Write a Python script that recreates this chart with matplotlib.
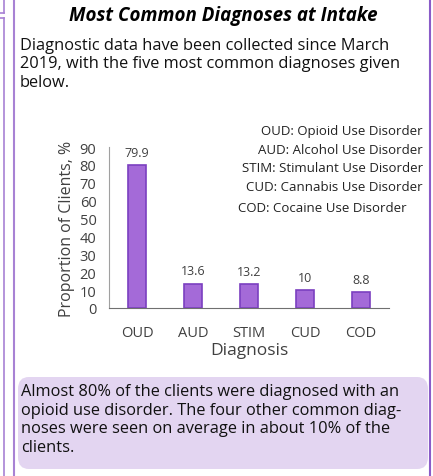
import matplotlib
matplotlib.use("Agg")
import matplotlib.pyplot as plt
from matplotlib.patches import FancyBboxPatch, Rectangle
from matplotlib.lines import Line2D

categories = ["OUD", "AUD", "STIM", "CUD", "COD"]
values = [79.9, 13.6, 13.2, 10, 8.8]
value_labels = ["79.9", "13.6", "13.2", "10", "8.8"]
yticks = [0, 10, 20, 30, 40, 50, 60, 70, 80, 90]
legend_lines = ["OUD: Opioid Use Disorder", "AUD: Alcohol Use Disorder",
                "STIM: Stimulant Use Disorder", "CUD: Cannabis Use Disorder",
                "COD: Cocaine Use Disorder"]
title = "Most Common Diagnoses at Intake"
intro = ["Diagnostic data have been collected since March",
         "2019, with the five most common diagnoses given",
         "below."]
summary = ["Almost 80% of the clients were diagnosed with an",
           "opioid use disorder. The four other common diag-",
           "noses were seen on average in about 10% of the",
           "clients."]

plt.rcParams['font.family'] = ['Open Sans', 'DejaVu Sans']

W, H = 433, 477
fig = plt.figure(figsize=(W / 100, H / 100), dpi=100)

def fx(x):
    return x / W

def fy(y):
    return 1 - y / H

border = "#a882d4"
# panel borders
fig.add_artist(Line2D([fx(14), fx(14)], [0, 1], color=border, lw=1.5))
fig.add_artist(Line2D([fx(430), fx(430)], [0, 1], color="#8a5cc8", lw=1.5))
fig.add_artist(Line2D([fx(4), fx(4)], [fy(0), fy(14)], color=border, lw=1.2))
fig.add_artist(Line2D([0, fx(4)], [fy(14), fy(14)], color=border, lw=1.2))
fig.add_artist(Line2D([fx(4), fx(4)], [fy(19), 0], color=border, lw=1.2))
fig.add_artist(Line2D([0, fx(4)], [fy(19), fy(19)], color=border, lw=1.2))

fig.text(fx(223), fy(16), title, ha="center", va="center", fontsize=13.5,
         fontweight="bold", fontstyle="italic", color="black")
for i, line in enumerate(intro):
    fig.text(fx(20), fy(46 + i * 18.5), line, ha="left", va="center",
             fontsize=11.8, color="#111111")

# summary box
box = FancyBboxPatch((fx(18), fy(470)), fx(428) - fx(18), fy(378) - fy(470),
                     boxstyle="round,pad=0,rounding_size=0.025",
                     transform=fig.transFigure, facecolor="#e3d5f1",
                     edgecolor="none")
fig.add_artist(box)
for i, line in enumerate(summary):
    fig.text(fx(21), fy(392 + i * 18.7), line, ha="left", va="center",
             fontsize=11.8, color="#111111")

# chart
ax = fig.add_axes([fx(109), fy(309), fx(389) - fx(109), fy(148) - fy(309)])
x = list(range(len(categories)))
ax.bar(x, values, width=0.32, color="#a46ad8", edgecolor="#7b3fc0", linewidth=1.2)
for xi, v, lab in zip(x, values, value_labels):
    ax.annotate(lab, (xi, v), xytext=(0, 13), textcoords="offset pixels",
                ha="center", va="center", fontsize=9, color="#404040")
ax.set_xlim(-0.5, 4.5)
ax.set_ylim(0, 90)
ax.set_yticks(yticks)
ax.set_yticklabels([str(t) for t in yticks])
ax.set_xticks(x)
ax.set_xticklabels(categories)
ax.tick_params(axis="both", length=0, colors="#404040", labelsize=10.5)
ax.tick_params(axis="x", pad=12)
ax.tick_params(axis="y", pad=9)
for s in ["top", "right"]:
    ax.spines[s].set_visible(False)
ax.spines["left"].set_color("#a0a0a0")
ax.spines["bottom"].set_color("#707070")
ax.set_xlabel("Diagnosis", fontsize=12.5, color="#404040", labelpad=2)
ax.set_ylabel("Proportion of Clients, %", fontsize=11.5, color="#404040", labelpad=3)

leg_y = [132, 151, 169, 188, 208]
leg_x = [423, 423, 423, 423, 407]
for line, yy, xx in zip(legend_lines, leg_y, leg_x):
    fig.text(fx(xx), fy(yy), line, ha="right", va="center", fontsize=9.5,
             color="#222222")

fig.savefig("out.png", dpi=100)
